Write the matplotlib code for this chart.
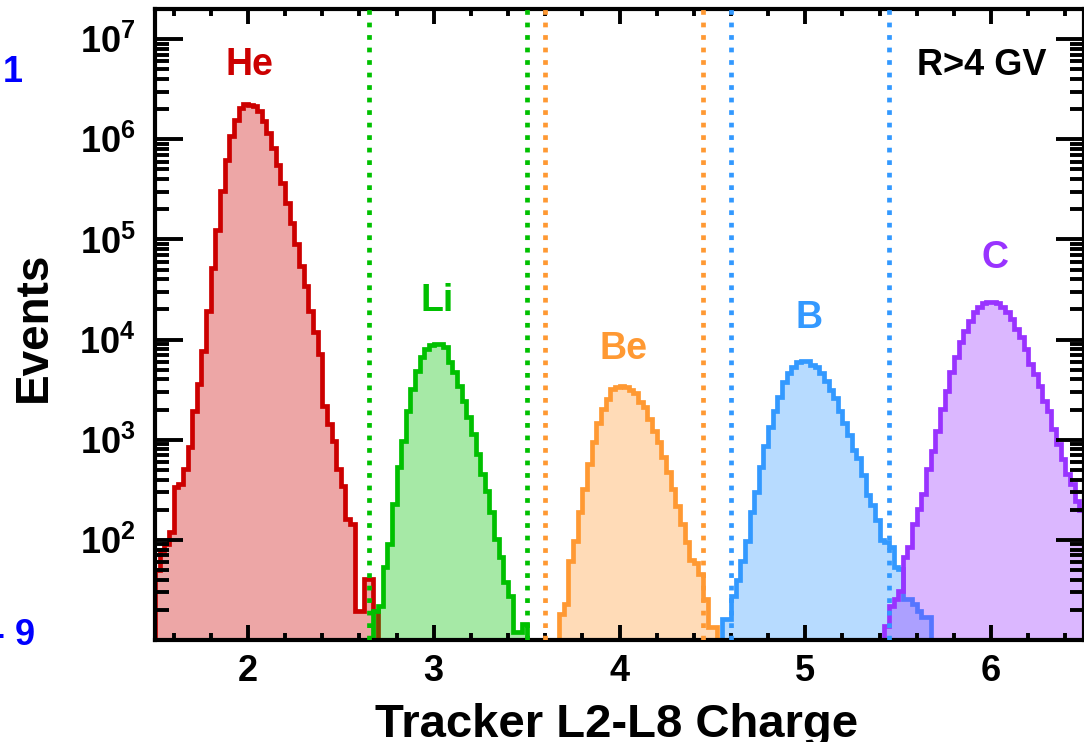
import numpy as np
import matplotlib
matplotlib.use("Agg")
import matplotlib.pyplot as plt
from matplotlib.ticker import LogLocator, NullFormatter, MultipleLocator, FixedLocator, FixedFormatter

plt.rcParams['font.family'] = ['Liberation Sans', 'DejaVu Sans']
plt.rcParams['font.weight'] = 'bold'
plt.rcParams['mathtext.fontset'] = 'custom'
plt.rcParams['mathtext.rm'] = 'Liberation Sans:bold'
plt.rcParams['mathtext.bf'] = 'Liberation Sans:bold'
plt.rcParams['mathtext.it'] = 'Liberation Sans:bold:italic'
plt.rcParams['mathtext.default'] = 'rm'

# binning of the charge histograms
bin_width = 0.025
x_lo, x_hi = 1.5, 6.5
y_lo, y_hi = 10, 2.0e7

# log10(events) per bin, starting at the given lower bin edge
he_start = 1.500
he_log10 = [1.70, 1.90, 1.96, 2.08, 2.53, 2.56, 2.71, 2.93, 3.29, 3.56,
            3.89, 4.29, 4.71, 5.09, 5.48, 5.79, 6.03, 6.19, 6.31, 6.35,
            6.34, 6.33, 6.28, 6.18, 6.06, 5.91, 5.74, 5.56, 5.36, 5.16,
            4.95, 4.73, 4.53, 4.29, 4.08, 3.86, 3.34, 3.16, 2.99, 2.71,
            2.54, 2.21, 2.16, 1.29, 1.29, 1.61, 1.61, 1.29]

li_start = 2.675
li_log10 = [1.29, 1.34, 1.73, 1.96, 2.36, 2.73, 2.99, 3.29, 3.51, 3.69,
            3.83, 3.91, 3.95, 3.96, 3.96, 3.93, 3.78, 3.68, 3.54, 3.39,
            3.23, 3.06, 2.86, 2.66, 2.49, 2.28, 2.01, 1.83, 1.58, 1.44,
            1.08, 1.08, 1.16]

be_start = 3.675
be_log10 = [1.26, 1.36, 1.79, 1.99, 2.28, 2.51, 2.76, 2.98, 3.17, 3.31,
            3.41, 3.51, 3.53, 3.54, 3.53, 3.50, 3.47, 3.38, 3.33, 3.21,
            3.09, 2.98, 2.83, 2.68, 2.51, 2.34, 2.16, 1.98, 1.80, 1.77,
            1.66, 1.41, 1.13, 1.13]

b_start = 4.550
b_log10 = [1.21, 1.21, 1.44, 1.60, 1.79, 1.99, 2.28, 2.48, 2.73, 2.94,
           3.13, 3.29, 3.43, 3.58, 3.67, 3.73, 3.78, 3.79, 3.79, 3.75,
           3.73, 3.67, 3.59, 3.50, 3.42, 3.29, 3.17, 3.05, 2.90, 2.82,
           2.65, 2.45, 2.35, 2.20, 2.00, 1.98, 1.93, 1.73, 1.71, 1.41,
           1.41, 1.36, 1.29, 1.23, 1.23]

c_start = 5.425
c_log10 = [1.14, 1.34, 1.41, 1.49, 1.83, 1.93, 2.16, 2.31, 2.46, 2.71,
           2.89, 3.09, 3.31, 3.49, 3.68, 3.83, 3.98, 4.09, 4.19, 4.28,
           4.33, 4.37, 4.38, 4.38, 4.37, 4.33, 4.28, 4.21, 4.11, 4.03,
           3.91, 3.76, 3.66, 3.54, 3.39, 3.29, 3.11, 2.96, 2.81, 2.66,
           2.56, 2.39, 2.30]

names = ['He', 'Li', 'Be', 'B', 'C']
starts = [he_start, li_start, be_start, b_start, c_start]
series = [he_log10, li_log10, be_log10, b_log10, c_log10]
colors = ['#CC0000', '#00C000', '#FF9933', '#3399FF', '#9933FF']
label_pos = [(2.01, 5.5e6), (3.02, 2.45e4), (4.02, 8.1e3), (5.02, 1.63e4), (6.02, 6.5e4)]

# selection cuts (dotted lines)
cuts = {'#00C000': [2.65, 3.5], '#FF9933': [3.6, 4.45], '#3399FF': [4.6, 5.45]}

edges = np.round(np.arange(x_lo, x_hi + bin_width / 2, bin_width), 4)
nbins = len(edges) - 1

fig = plt.figure(figsize=(10.84, 7.42), dpi=100)
ax = fig.add_axes([155 / 1084, 1 - 640 / 742, 929 / 1084, 631 / 742])
ax.set_yscale('log')

for name, start, logs, col in zip(names, starts, series, colors):
    counts = np.zeros(nbins)
    i0 = int(round((start - x_lo) / bin_width))
    counts[i0:i0 + len(logs)] = 10 ** np.array(logs)
    vals = np.where(counts > 0, counts, y_lo)
    ax.stairs(vals, edges, baseline=y_lo, fill=True, color=col, alpha=0.35, lw=0)
    ax.stairs(vals, edges, baseline=y_lo, color=col, lw=3.4)

for col, xs in cuts.items():
    for x in xs:
        ax.axvline(x, color=col, lw=3.4, linestyle=(0, (1.0, 1.65)), zorder=5)

for name, (x, y), col in zip(names, label_pos, colors):
    ax.text(x, y, name, color=col, fontsize=27, fontweight='bold', ha='center', va='center')

ax.text(0.89, 0.911, 'R>4 GV', transform=ax.transAxes, fontsize=26,
        fontweight='bold', ha='center', va='center')

ax.set_xlim(x_lo, x_hi)
ax.set_ylim(y_lo, y_hi)

ax.xaxis.set_major_locator(MultipleLocator(1))
ax.xaxis.set_minor_locator(MultipleLocator(0.2))
ytick_vals = [1e2, 1e3, 1e4, 1e5, 1e6, 1e7]
ax.yaxis.set_major_locator(FixedLocator(ytick_vals))
ax.yaxis.set_major_formatter(FixedFormatter([r'$10^{%d}$' % k for k in range(2, 8)]))
ax.yaxis.set_minor_locator(LogLocator(base=10, subs=np.arange(2, 10), numticks=30))
ax.yaxis.set_minor_formatter(NullFormatter())

ax.tick_params(axis='x', which='major', direction='in', length=11, width=2.8,
               top=True, bottom=True, labelsize=26, pad=10)
ax.tick_params(axis='x', which='minor', direction='in', length=5, width=2.8,
               top=True, bottom=True)
ax.tick_params(axis='y', which='major', direction='in', length=20, width=2.8,
               left=True, right=True, labelsize=26, pad=14)
ax.tick_params(axis='y', which='minor', direction='in', length=10, width=2.8,
               left=True, right=True)
for sp in ax.spines.values():
    sp.set_linewidth(3)

fig.text(34 / 1084, 1 - 327 / 742, 'Events', rotation=90, fontsize=33,
         fontweight='bold', ha='center', va='center')
fig.text(617 / 1084, 1 - 737 / 742, 'Tracker L2-L8 Charge', fontsize=34,
         fontweight='bold', ha='center', va='baseline')

# stray labels of a neighbouring panel, cut at the left edge
fig.text(13 / 1084, 1 - 73 / 742, '1', color='#0000FF', fontsize=26,
         fontweight='bold', ha='center', va='center')
fig.text(35 / 1084, 1 - 645 / 742, '- 9', color='#0000FF', fontsize=26,
         fontweight='bold', ha='right', va='baseline')

fig.savefig('out.png', dpi=100)
